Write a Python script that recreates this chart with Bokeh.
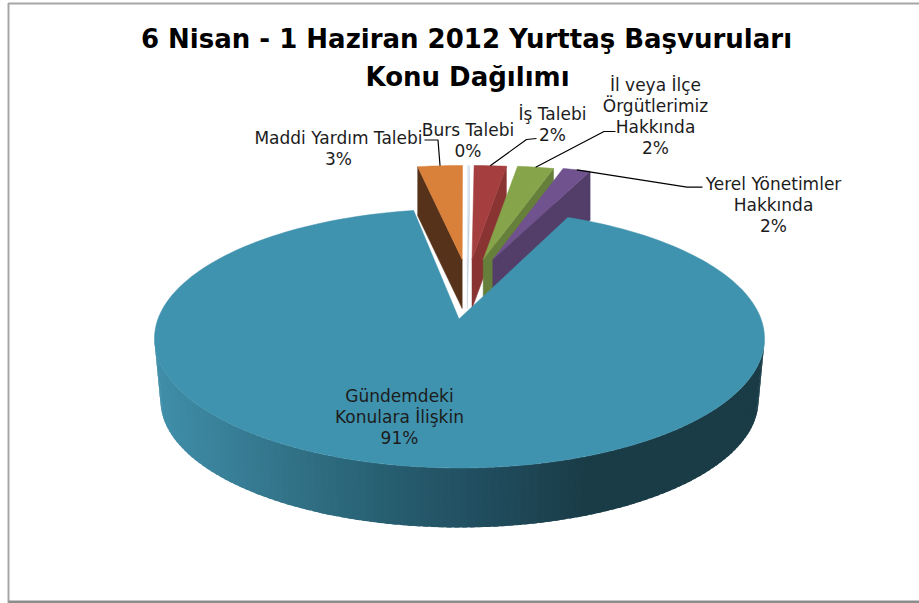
import numpy as np
from bokeh.plotting import figure
from bokeh.models import Range1d, ColumnDataSource
from bokeh.core.properties import value
from bokeh.embed import file_html
from bokeh.resources import INLINE

# ---- data -------------------------------------------------------------
title_lines = ["6 Nisan - 1 Haziran 2012 Yurttaş Başvuruları", "Konu Dağılımı"]
categories = ["Gündemdeki Konulara İlişkin", "Maddi Yardım Talebi", "Burs Talebi",
              "İş Talebi", "İl veya İlçe Örgütlerimiz Hakkında", "Yerel Yönetimler Hakkında"]
shown_percent = [91, 3, 0, 2, 2, 2]
shares = [91.82, 2.56, 0.10, 1.84, 2.08, 1.61]
label_lines = [["Gündemdeki", "Konulara İlişkin"], ["Maddi Yardım Talebi"], ["Burs Talebi"],
               ["İş Talebi"], ["İl veya İlçe", "Örgütlerimiz", "Hakkında"],
               ["Yerel Yönetimler", "Hakkında"]]
face_colors = ["#4093ae", "#d9803a", "#dce6f2", "#a53f3f", "#86a44a", "#70528f"]
wall_colors = [None, "#57321a", "#c3cfdd", "#8a3333", "#667f3a", "#523e69"]

# ---- projection --------------------------------------------------------
START = 20.3          # angle where the first slice begins, clockwise from the back
MAIN_TURN = 0.5
CX, CY, RX, RY = 459, 338, 305, 129.5     # main slice top ellipse
BCX, BCY, BRX, BRY = 459, 400, 299, 127   # main slice bottom ellipse
APEX_MAIN = (458.5, 318.5)
SRX, SRY, SDEPTH = 280, 94, 49            # exploded slices
# exploded apex of each small slice (index follows categories)
APEX = {1: (461.7, 259), 2: (466.8, 259), 3: (471.5, 259), 4: (482.7, 259), 5: (492.3, 259)}
WALL_SIDE = {1: "start", 2: "end", 3: "end", 4: "end", 5: "end"}

edges = START + np.concatenate([[0], np.cumsum(shares)]) * 3.6


def sp(a):
    r = np.radians(a)
    return np.sin(r), np.cos(r)


p = figure(width=919, height=603, x_range=Range1d(0, 919), y_range=Range1d(603, 0),
           output_backend="svg", toolbar_location=None, min_border=0,
           background_fill_color="white",
           border_fill_color="white", outline_line_color=None)
p.axis.visible = False
p.xaxis.visible = False
p.yaxis.visible = False
p.grid.visible = False

# chart frame
p.line([8, 8, 919], [603, 3, 3], line_color="#a6a6a6", line_width=2)
p.line([8, 919], [601.5, 601.5], line_color="#8c8c8c", line_width=3)

# small exploded slices, back to front
for i in range(1, len(shares)):
    ax, ay = APEX[i]
    a0, a1 = edges[i], edges[i + 1]
    s, c = sp(WALL_SIDE[i] == "end" and a1 or a0)
    ox, oy = ax + SRX * s, ay - SRY * c
    p.patch([ox, ax, ax, ox], [oy, ay, ay + SDEPTH, oy + SDEPTH],
            fill_color=wall_colors[i], line_color=wall_colors[i], line_width=0.5)
    arc = np.linspace(a0, a1, 8)
    s, c = sp(arc)
    p.patch(np.r_[ax, ax + SRX * s], np.r_[ay, ay - SRY * c],
            fill_color=face_colors[i], line_color=face_colors[i], line_width=0.5)

# main slice side wall: shaded strips along the front half, each overlapping the next
stops_x = [-1.0, -0.62, -0.2, 0.12, 0.42, 1.0]
stops_rgb = np.array([(64, 143, 170), (52, 118, 140), (38, 92, 110), (32, 75, 92), (26, 60, 71), (26, 60, 71)])
angles = np.linspace(90, 270, 121)
xs, ys, cols = [], [], []
for a0, a1 in zip(angles[:-1], angles[1:]):
    s0, c0 = sp(a0)
    s1, c1 = sp(min(a1 + 1.0, 270))
    xs.append([CX + RX * s0, CX + RX * s1, BCX + BRX * s1, BCX + BRX * s0])
    ys.append([CY - RY * c0, CY - RY * c1, BCY - BRY * c1, BCY - BRY * c0])
    t = (s0 + s1) / 2
    rgb = [int(np.interp(t, stops_x, stops_rgb[:, k])) for k in range(3)]
    cols.append("#%02x%02x%02x" % tuple(rgb))
p.patches("x", "y", source=ColumnDataSource(dict(x=xs, y=ys, c=cols)),
          fill_color="c", line_color=None)

# main slice top face
arc = np.linspace(edges[0] + MAIN_TURN, edges[1] + MAIN_TURN, 240)
s, c = sp(arc)
p.patch(np.r_[APEX_MAIN[0], CX + RX * s], np.r_[APEX_MAIN[1], CY - RY * c],
        fill_color=face_colors[0], line_color=face_colors[0], line_width=0.5)

# leader lines: from the middle of a slice's rim to its label
LEADER = {1: [(437.5, 139.5), (424, 139.5)], 3: [(526, 139), (536, 138)],
          4: [(603.5, 131), (615, 131)], 5: [(686.5, 186.7), (702, 186.7)]}
for i, tail in LEADER.items():
    ax, ay = APEX[i]
    s, c = sp((edges[i] + edges[i + 1]) / 2)
    p.line([ax + SRX * s] + [q[0] for q in tail], [ay - SRY * c] + [q[1] for q in tail],
           line_color="black", line_width=1.2)

FONT = value("DejaVu Sans")
# title
for txt, x, y in zip(title_lines, [466, 467], [38, 76]):
    p.text([x], [y], text=[txt], text_font=FONT, text_font_style="bold", text_font_size="26px",
           text_color="#000000", text_align="center", text_baseline="middle")

# data labels
ANCHOR = {0: (399, 395), 1: (338, 137), 2: (467.5, 129), 3: (552, 113), 4: (655, 84), 5: (773, 183)}
LINE_H = 21.2
for i, lines in enumerate(label_lines):
    x, y = ANCHOR[i]
    for k, txt in enumerate(lines + [f"{shown_percent[i]}%"]):
        p.text([x], [y + k * LINE_H], text=[txt], text_font=FONT, text_font_size="17px",
               text_color="#1c1c1c", text_align="center", text_baseline="middle")

open("out.html", "w").write(file_html(p, INLINE))
